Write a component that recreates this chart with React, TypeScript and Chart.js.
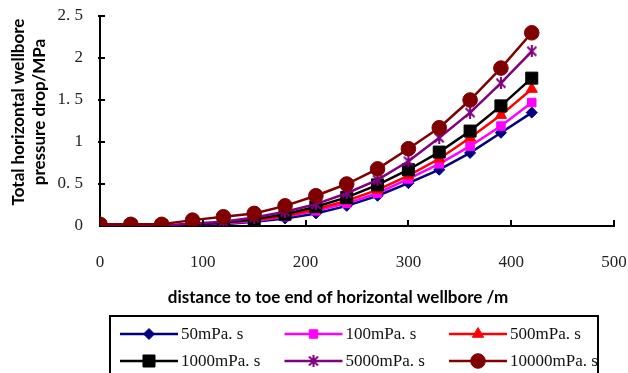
import React, { useEffect, useRef } from "react";
import { Chart, registerables } from "chart.js";
import { drawPoint } from "chart.js/helpers";

Chart.register(...registerables);

const distances = [0, 30, 60, 90, 120, 150, 180, 210, 240, 270, 300, 330, 360, 390, 420];
const visc50 = [0, 0, 0, 0.01, 0.02, 0.05, 0.09, 0.15, 0.24, 0.36, 0.51, 0.67, 0.87, 1.11, 1.35];
const visc100 = [0, 0, 0, 0.02, 0.03, 0.06, 0.11, 0.18, 0.27, 0.39, 0.56, 0.74, 0.95, 1.19, 1.47];
const visc500 = [0, 0, 0, 0.02, 0.04, 0.07, 0.12, 0.2, 0.3, 0.43, 0.6, 0.8, 1.05, 1.32, 1.63];
const visc1000 = [0, 0, 0, 0.02, 0.04, 0.08, 0.14, 0.23, 0.34, 0.49, 0.67, 0.88, 1.13, 1.43, 1.76];
const visc5000 = [0, 0, 0, 0.03, 0.05, 0.1, 0.17, 0.26, 0.39, 0.55, 0.77, 1.05, 1.35, 1.7, 2.08];
const visc10000 = [0.02, 0.02, 0.02, 0.07, 0.11, 0.15, 0.24, 0.36, 0.5, 0.68, 0.92, 1.17, 1.5, 1.88, 2.3];

const seriesLabels = ["50mPa. s", "100mPa. s", "500mPa. s", "1000mPa. s", "5000mPa. s", "10000mPa. s"];
const yTickLabels = ["0", "0. 5", "1", "1. 5", "2", "2. 5"];
const xTitle = "distance to toe end of horizontal wellbore /m";
const yTitle = ["Total horizontal wellbore", "pressure drop/MPa"];

const SERIF = "'Liberation Serif', 'DejaVu Serif', serif";
const SANS = "Lato, 'Open Sans', sans-serif";

function makeStar(size: number, color: string): HTMLCanvasElement {
  const c = document.createElement("canvas");
  c.width = size;
  c.height = size;
  const ctx = c.getContext("2d")!;
  ctx.strokeStyle = color;
  ctx.lineWidth = 2;
  const m = 1.5;
  ctx.beginPath();
  ctx.moveTo(m, m);
  ctx.lineTo(size - m, size - m);
  ctx.moveTo(size - m, m);
  ctx.lineTo(m, size - m);
  ctx.moveTo(size / 2, 0);
  ctx.lineTo(size / 2, size);
  ctx.stroke();
  return c;
}

const innerTicks = {
  id: "innerTicks",
  afterDatasetsDraw(chart: any) {
    const ctx = chart.ctx;
    const xs = chart.scales.x;
    const ys = chart.scales.y;
    ctx.save();
    ctx.strokeStyle = "#000";
    ctx.lineWidth = 2;
    ctx.beginPath();
    for (let v = 100; v <= 500; v += 100) {
      const px = Math.round(xs.getPixelForValue(v));
      ctx.moveTo(px, xs.top);
      ctx.lineTo(px, xs.top - 6);
    }
    for (let v = 0.5; v <= 2.5; v += 0.5) {
      const py = Math.round(ys.getPixelForValue(v));
      ctx.moveTo(ys.right - 2, py);
      ctx.lineTo(ys.right + 5, py);
    }
    ctx.stroke();
    ctx.restore();
  },
};

const axisTitles = {
  id: "axisTitles",
  afterDraw(chart: any) {
    const ctx = chart.ctx;
    ctx.save();
    ctx.fillStyle = "#000";
    ctx.font = "bold 17px " + SANS;
    ctx.textAlign = "center";
    ctx.textBaseline = "middle";
    ctx.fillText(xTitle, 338, 298);
    ctx.translate(0, 112);
    ctx.rotate(-Math.PI / 2);
    ctx.fillText(yTitle[0], 0, 19);
    ctx.fillText(yTitle[1], 0, 40);
    ctx.restore();
  },
};

const boxLegend = {
  id: "boxLegend",
  afterDraw(chart: any) {
    const ctx = chart.ctx;
    ctx.save();
    ctx.strokeStyle = "#000";
    ctx.lineWidth = 2;
    ctx.strokeRect(110, 316, 488, 70);
    const rowsY = [334, 361];
    chart.data.datasets.forEach((ds: any, i: number) => {
      const col = i % 3;
      const row = Math.floor(i / 3);
      const x0 = 120 + col * 164.5;
      const y = rowsY[row];
      ctx.strokeStyle = ds.borderColor;
      ctx.lineWidth = 2.5;
      ctx.beginPath();
      ctx.moveTo(x0, y);
      ctx.lineTo(x0 + 58, y);
      ctx.stroke();
      ctx.fillStyle = ds.pointBackgroundColor;
      ctx.strokeStyle = ds.pointBorderColor;
      ctx.lineWidth = 1;
      drawPoint(
        ctx,
        { pointStyle: ds.pointStyle, rotation: 0, borderWidth: 1, radius: ds.pointRadius } as any,
        x0 + 29,
        y
      );
      ctx.fillStyle = "#111";
      ctx.font = "17px " + SERIF;
      ctx.textBaseline = "middle";
      ctx.textAlign = "left";
      ctx.fillText(ds.label, x0 + 61, y + 1);
    });
    ctx.restore();
  },
};

export default function App() {
  const ref = useRef<HTMLCanvasElement>(null);
  useEffect(() => {
    const series = [visc50, visc100, visc500, visc1000, visc5000, visc10000];
    const colors = ["#000080", "#FF00FF", "#FF0000", "#000000", "#800080", "#800000"];
    const styles: any[] = ["rectRot", "rect", "triangle", "rect", makeStar(12, "#800080"), "circle"];
    const radii = [5.5, 6, 6.5, 8.5, 6, 7.3];
    const datasets = series.map((vals, i) => ({
      label: seriesLabels[i],
      data: distances.map((d, j) => ({ x: d, y: vals[j] })),
      borderColor: colors[i],
      backgroundColor: colors[i],
      pointBackgroundColor: colors[i],
      pointBorderColor: colors[i],
      pointStyle: styles[i],
      pointRadius: radii[i],
      pointBorderWidth: 1,
      borderWidth: 2.5,
      tension: 0,
      order: 5 - i,
    }));
    const chart = new Chart(ref.current!, {
      type: "line",
      data: { datasets } as any,
      options: {
        animation: false,
        responsive: true,
        maintainAspectRatio: false,
        layout: { padding: { left: 0, top: 16, right: 14, bottom: 57 } },
        plugins: { legend: { display: false }, tooltip: { enabled: false } },
        scales: {
          x: {
            type: "linear",
            min: 0,
            max: 500,
            afterFit: (s: any) => {
              s.height = 90;
              s.paddingLeft = 0;
              s.paddingRight = 0;
            },
            ticks: {
              stepSize: 100,
              padding: 26,
              color: "#222",
              font: { family: SERIF, size: 17 },
              maxRotation: 0,
            },
            grid: { display: false, drawTicks: false },
            border: { display: true, color: "#000", width: 2 },
          },
          y: {
            type: "linear",
            min: 0,
            max: 2.5,
            afterFit: (s: any) => {
              s.width = 100;
              s.paddingTop = 0;
              s.paddingBottom = 0;
            },
            ticks: {
              stepSize: 0.5,
              padding: 17,
              color: "#222",
              font: { family: SERIF, size: 17 },
              callback: (_v: any, idx: number) => yTickLabels[idx],
            },
            grid: { display: false, drawTicks: false },
            border: { display: true, color: "#000", width: 2 },
          },
        },
      } as any,
      plugins: [innerTicks, axisTitles, boxLegend],
    });
    return () => chart.destroy();
  }, []);
  return (
    <div style={{ position: "fixed", left: 0, top: 0, width: 628, height: 373, background: "#fff" }}>
      <canvas ref={ref} />
    </div>
  );
}
